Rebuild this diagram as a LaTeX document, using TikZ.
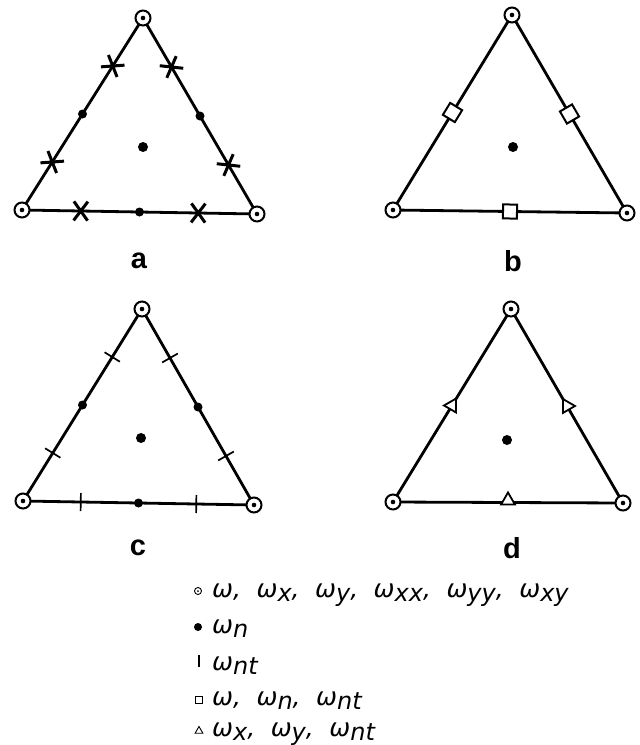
\documentclass[tikz,border=0pt]{standalone}
\usepackage{fontspec}
\setmainfont{Liberation Sans}
\newfontfamily\legfont{DejaVu Sans}
\usetikzlibrary{shapes.misc,shapes.geometric}
\newcommand\lsub[1]{\raisebox{-0.3ex}{\fontsize{24}{24}\selectfont #1}}
\newcommand\csep{,\hspace{0.62em}}
\begin{document}
\begin{tikzpicture}[x=1pt,y=-1pt,
  tside/.style={line width=2.8pt},
  vtx/.style={circle,draw,line width=2pt,fill=white,minimum size=15pt,inner sep=0pt},
  ndot/.style={circle,fill,minimum size=9pt,inner sep=0pt},
  cdot/.style={circle,fill,minimum size=10pt,inner sep=0pt},
  xmk/.style={cross out,draw,line width=3pt,minimum width=11pt,minimum height=16pt,inner sep=0pt},
  tk/.style={rectangle,draw,line width=1.7pt,minimum width=0pt,minimum height=18pt,inner sep=0pt},
  sq/.style={rectangle,draw,fill=white,line width=2pt,minimum size=14pt,inner sep=0pt},
  trimk/.style={regular polygon,regular polygon sides=3,draw,fill=white,line width=1.8pt,minimum size=16pt,inner sep=0pt},
  lab/.style={font=\fontsize{29}{29}\selectfont\bfseries},
  leg/.style={anchor=base west,font=\legfont\fontsize{25}{25}\selectfont\itshape,inner sep=0pt}]
\useasboundingbox (0,0) rectangle (640,745);

% ---------- a ----------
\coordinate (aT) at (143,18); \coordinate (aL) at (22,210); \coordinate (aR) at (257,214);
\draw[tside] (aL) -- (aT)
  node[pos=.25,sloped,xmk] (ax1) {} node[pos=.5,ndot] (an1) {} node[pos=.75,sloped,xmk] (ax2) {};
\draw[tside] (aT) -- (aR)
  node[pos=.25,sloped,xmk] (ax3) {} node[pos=.5,ndot] (an2) {} node[pos=.75,sloped,xmk] (ax4) {};
\draw[tside] (aL) -- (aR)
  node[pos=.25,sloped,xmk] (ax5) {} node[pos=.5,ndot] (an3) {} node[pos=.75,sloped,xmk] (ax6) {};
\node[cdot] (ac) at (143,147) {};
\foreach \v in {aT,aL,aR}{\node[vtx] (\v n) at (\v) {}; \fill (\v) circle (2.3);}
\node[lab] (la) at (139,261) {a};

% ---------- b ----------
\coordinate (bT) at (512,15); \coordinate (bL) at (393,210); \coordinate (bR) at (627,213);
\draw[tside] (bL) -- (bT) node[pos=.5,sloped,sq] (bs1) {};
\draw[tside] (bT) -- (bR) node[pos=.5,sloped,sq] (bs2) {};
\draw[tside] (bL) -- (bR) node[pos=.5,sloped,sq] (bs3) {};
\node[cdot] (bc) at (513,147) {};
\foreach \v in {bT,bL,bR}{\node[vtx] (\v n) at (\v) {}; \fill (\v) circle (2.3);}
\node[lab] (lb) at (513,261) {b};

% ---------- c ----------
\coordinate (cT) at (142,309); \coordinate (cL) at (23,501); \coordinate (cR) at (254,505);
\draw[tside] (cL) -- (cT)
  node[pos=.25,sloped,tk] (ct1) {} node[pos=.5,ndot] (cn1) {} node[pos=.75,sloped,tk] (ct2) {};
\draw[tside] (cT) -- (cR)
  node[pos=.25,sloped,tk] (ct3) {} node[pos=.5,ndot] (cn2) {} node[pos=.75,sloped,tk] (ct4) {};
\draw[tside] (cL) -- (cR)
  node[pos=.25,sloped,tk] (ct5) {} node[pos=.5,ndot] (cn3) {} node[pos=.75,sloped,tk] (ct6) {};
\node[cdot] (cc) at (141,438) {};
\foreach \v in {cT,cL,cR}{\node[vtx] (\v n) at (\v) {}; \fill (\v) circle (2.3);}
\node[lab] (lc) at (138,548) {c};

% ---------- d ----------
\coordinate (dT) at (511,309); \coordinate (dL) at (393,502); \coordinate (dR) at (623,503);
\draw[tside] (dL) -- (dT) node[pos=.5,trimk,rotate=90] (dt1) {};
\draw[tside] (dT) -- (dR) node[pos=.5,trimk,rotate=-90] (dt2) {};
\draw[tside] (dL) -- (dR) node[pos=.5,trimk,yshift=2pt] (dt3) {};
\node[cdot] (dc) at (507,440) {};
\foreach \v in {dT,dL,dR}{\node[vtx] (\v n) at (\v) {}; \fill (\v) circle (2.3);}
\node[lab] (ld) at (512,548) {d};

% ---------- legend ----------
\node[circle,draw,line width=0.9pt,minimum size=7pt,inner sep=0pt] (k1) at (198,591) {};
\fill (k1.center) circle (1);
\node[circle,fill,minimum size=8pt,inner sep=0pt] (k2) at (198,627) {};
\draw[line width=1.4pt] (199,655) -- (199,667);
\node[rectangle,draw,line width=0.9pt,minimum size=7pt,inner sep=0pt] (k4) at (199,700) {};
\node[regular polygon,regular polygon sides=3,draw,line width=0.9pt,minimum size=9pt,inner sep=0pt] (k5) at (199,731) {};

\node[leg] (t1) at (212,597) {ω\csep ω\lsub{x}\csep ω\lsub{y}\csep ω\lsub{xx}\csep ω\lsub{yy}\csep ω\lsub{xy}};
\node[leg] (t2) at (212,633) {ω\lsub{n}};
\node[leg] (t3) at (212,670) {ω\lsub{nt}};
\node[leg] (t4) at (212,705) {ω\csep ω\lsub{n}\csep ω\lsub{nt}};
\node[leg] (t5) at (212,736) {ω\lsub{x}\csep ω\lsub{y}\csep ω\lsub{nt}};
\end{tikzpicture}
\end{document}
